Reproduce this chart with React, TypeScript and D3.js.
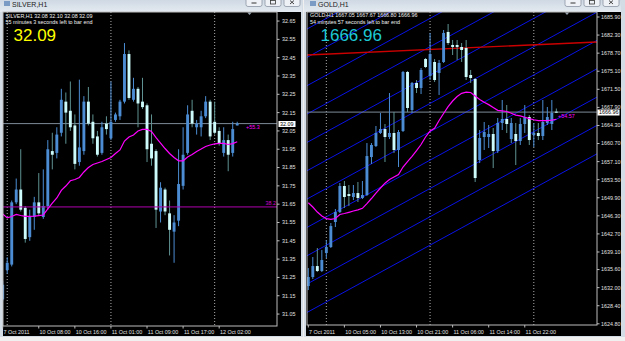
import React from "react";
import * as d3 from "d3";

// ---------------- SILVER (H1) ----------------
const silverOpen = [31.13,31.29,31.32,31.66,31.73,31.63,31.47,31.58,31.66,31.58,31.64,31.94,31.93,32.04,32.21,32.16,32.08,31.88,31.94,32.21,32.10,32.02,31.93,32.09,32.01,32.11,32.13,32.21,32.47,32.22,32.28,32.21,32.19,31.98,31.94,31.61,31.73,31.60,31.50,31.56,31.75,31.93,32.16,32.07,32.07,32.13,32.21,32.10,32.05,31.93,32.00,31.93,32.08];
const silverHigh = [31.23,31.36,31.67,31.79,31.95,31.64,31.62,31.69,31.82,31.84,32.00,32.04,32.07,32.28,32.26,32.32,32.14,32.33,32.24,32.29,32.14,32.05,32.10,32.13,32.32,32.15,32.22,32.53,32.49,32.34,32.29,32.34,32.20,32.14,31.95,31.77,31.74,31.67,31.59,31.95,32.07,32.19,32.22,32.11,32.16,32.24,32.22,32.21,32.07,32.07,32.03,32.10,32.10];
const silverLow = [31.12,31.27,31.31,31.65,31.61,31.44,31.45,31.51,31.59,31.57,31.62,31.84,31.90,32.02,31.98,32.05,31.84,31.86,31.92,32.08,31.98,31.91,31.92,32.03,32.00,32.10,32.11,32.20,32.22,32.21,32.07,32.17,31.88,31.86,31.52,31.55,31.59,31.37,31.33,31.53,31.73,31.92,32.07,32.03,32.02,32.12,32.00,32.03,31.97,31.91,31.83,31.91,32.08];
const silverClose = [31.21,31.33,31.66,31.73,31.62,31.46,31.58,31.66,31.60,31.64,31.95,31.92,32.03,32.22,32.15,32.07,31.87,31.96,32.21,32.09,32.01,31.92,32.07,32.06,32.10,32.14,32.21,32.47,32.23,32.28,32.20,32.18,31.95,31.90,31.62,31.74,31.61,31.51,31.55,31.76,31.92,32.14,32.09,32.09,32.13,32.21,32.02,32.04,31.98,32.00,31.92,32.06,32.09];
const silverMA = [31.596,31.575,31.583,31.594,31.588,31.583,31.583,31.585,31.588,31.591,31.624,31.656,31.684,31.725,31.749,31.778,31.785,31.796,31.826,31.850,31.867,31.875,31.883,31.894,31.905,31.927,31.946,31.995,32.017,32.028,32.050,32.058,32.058,32.047,32.014,31.984,31.954,31.927,31.905,31.887,31.887,31.908,31.921,31.938,31.951,31.965,31.973,31.979,31.982,31.982,31.976,31.981,31.991];
const silverTicks = [32.65,32.55,32.45,32.35,32.25,32.15,32.05,31.95,31.85,31.75,31.65,31.55,31.45,31.35,31.25,31.15,31.05];
const silverDateIdx = [0,8,16,24,32,40,48];
const silverDates = ["7 Oct 2011","10 Oct 08:00","10 Oct 16:00","11 Oct 01:00","11 Oct 09:00","11 Oct 17:00","12 Oct 02:00"];
const silverSeparators = [1,24,47];
const silverLevel = 31.635;
const silverLevelLabel = "38.2";
const silverBid = 32.09;
const silverHeader = "SILVER,H1  32.08 32.10 32.08 32.09";
const silverTimer = "55 minutes 3 seconds left to bar end";
const silverTag = "+55.3";

// ---------------- GOLD (H1) ----------------
const goldOpen = [1632.32,1634.11,1636.30,1635.31,1638.89,1640.09,1645.07,1647.06,1652.24,1650.64,1650.05,1650.84,1649.85,1650.45,1658.01,1660.21,1662.80,1663.59,1662.00,1662.80,1659.41,1663.20,1674.95,1667.38,1672.76,1671.76,1677.54,1674.15,1676.94,1674.75,1676.94,1682.92,1680.33,1680.33,1679.93,1679.73,1674.35,1673.55,1657.42,1662.00,1662.00,1662.60,1659.21,1664.79,1665.59,1661.60,1662.60,1661.20,1664.59,1665.98,1662.40,1662.80,1662.20,1664.79,1664.59,1667.05];
const goldHigh = [1635.90,1638.10,1639.89,1639.49,1641.48,1644.87,1647.66,1652.84,1653.24,1652.44,1652.44,1653.04,1653.24,1660.80,1660.80,1664.19,1666.78,1664.59,1670.76,1666.98,1663.39,1675.15,1675.15,1672.96,1673.35,1675.74,1677.74,1682.72,1677.54,1677.34,1683.31,1684.51,1681.32,1681.32,1680.72,1681.32,1675.35,1673.75,1663.39,1664.99,1664.39,1663.79,1665.79,1669.37,1668.37,1665.79,1664.79,1665.79,1668.37,1666.38,1664.79,1664.79,1669.37,1667.98,1669.37,1667.67];
const goldLow = [1631.52,1633.71,1635.11,1635.11,1637.90,1639.89,1644.07,1646.86,1647.86,1648.25,1649.45,1649.05,1649.65,1650.25,1656.62,1660.01,1662.60,1657.02,1661.60,1658.81,1656.02,1663.00,1666.98,1666.78,1670.76,1670.56,1675.74,1673.35,1672.96,1670.37,1676.74,1680.33,1678.33,1677.34,1676.94,1673.35,1672.76,1653.04,1656.82,1659.41,1659.81,1655.82,1658.81,1663.39,1662.80,1660.80,1656.42,1660.41,1662.80,1660.41,1660.01,1661.40,1661.40,1664.39,1663.39,1666.80];
const goldClose = [1634.11,1636.30,1635.31,1637.50,1640.09,1644.27,1647.06,1652.24,1650.05,1650.25,1650.84,1649.85,1650.45,1658.21,1660.41,1662.80,1663.59,1662.00,1662.80,1659.41,1663.00,1674.95,1667.78,1672.76,1671.76,1675.35,1675.94,1678.53,1673.35,1676.74,1682.72,1680.72,1679.93,1679.93,1679.33,1673.95,1673.75,1653.83,1661.80,1663.00,1662.60,1659.21,1664.79,1665.59,1664.59,1664.79,1661.20,1664.59,1665.98,1661.40,1662.80,1662.20,1664.99,1665.98,1666.78,1666.96];
const goldMA = [1648.91,1648.06,1647.06,1646.26,1645.76,1645.61,1645.76,1646.56,1646.76,1647.00,1647.26,1647.50,1647.80,1648.75,1649.75,1650.84,1651.84,1652.80,1653.53,1654.03,1654.53,1656.02,1657.12,1658.16,1659.31,1660.51,1662.00,1663.19,1663.73,1665.29,1666.68,1668.04,1669.17,1670.07,1670.70,1670.92,1670.86,1670.17,1669.47,1668.91,1668.45,1667.88,1667.32,1667.22,1667.08,1666.74,1666.36,1666.22,1665.94,1665.66,1665.43,1665.25,1665.25,1665.25,1665.35,1665.53];
const goldTicks = ["1685.90","1682.30","1678.70","1675.10","1671.50","1667.90","1664.30","1660.70","1657.10","1653.50","1649.90","1646.30","1642.70","1639.10","1635.60","1632.00","1628.40","1624.80"];
const goldDateIdx = [0,8,16,24,32,40,48];
const goldDates = ["7 Oct 2011","10 Oct 05:00","10 Oct 13:00","10 Oct 21:00","11 Oct 06:00","11 Oct 14:00","11 Oct 22:00"];
const goldSeparators = [4,27,50];
const goldChannelBase = [1683.65,1677.99,1672.36,1666.72,1661.06,1655.42,1649.79,1644.13,1638.49,1632.86,1627.20];
const goldChannelSlope = 0.4914;
const goldTrendIdx = [-0.3, 64];
const goldTrendPrice = [1678.33, 1680.92];
const goldBid = 1666.96;
const goldHeader = "GOLD,H1  1667.05 1667.67 1666.80 1666.96";
const goldTimer = "54 minutes 57 seconds left to bar end";
const goldTag = "+54.57";

// ---------------- styling ----------------
const BULL = "#4b8cd2";
const BEAR = "#cdfafa";
const BEAR_WICK = "#5f9292";
const FONT = "'Liberation Sans', Arial, sans-serif";
const AX = "#e2e2e2";
const FS = 5.4;

type Scale = (v: number) => number;

function Candles({ o, h, l, c, x, y }: { o: number[]; h: number[]; l: number[]; c: number[]; x: Scale; y: Scale }) {
  return (
    <g>
      {o.map((op, i) => {
        const bull = c[i] >= op;
        const cx = x(i);
        const yo = y(op), yc = y(c[i]);
        const top = Math.min(yo, yc);
        const bh = Math.max(1, Math.abs(yo - yc));
        return (
          <g key={i}>
            <line x1={cx} x2={cx} y1={y(h[i])} y2={y(l[i])} stroke={bull ? BULL : BEAR_WICK} strokeWidth={1} />
            <rect x={cx - 1.45} y={top} width={2.9} height={bh} fill={bull ? BULL : BEAR} />
          </g>
        );
      })}
    </g>
  );
}

function TitleBar({ x0, x1, title, tx }: { x0: number; x1: number; title: string; tx: number }) {
  const bx = [x1 - 56, x1 - 37, x1 - 18];
  return (
    <g>
      <rect x={x0} y={0} width={x1 - x0} height={12} fill="url(#tb)" />
      <rect x={tx - 8} y={1} width={6} height={5} fill="#7a9cc4" />
      <text x={tx} y={7} fontFamily={FONT} fontSize={7} fill="#222">{title}</text>
      {bx.map((b, k) => (
        <g key={k}>
          <rect x={b} y={-3} width={16} height={9.5} rx={2} fill="#eef1f5" stroke="#8b96a3" strokeWidth={0.8} />
          {k === 0 && <line x1={b + 5.5} x2={b + 10.5} y1={3} y2={3} stroke="#333" strokeWidth={1} />}
          {k === 1 && <rect x={b + 5.5} y={0.5} width={5} height={3.5} fill="none" stroke="#333" strokeWidth={0.8} />}
          {k === 2 && (
            <g stroke="#333" strokeWidth={0.9}>
              <line x1={b + 6} x2={b + 10} y1={0.5} y2={4} />
              <line x1={b + 10} x2={b + 6} y1={0.5} y2={4} />
            </g>
          )}
        </g>
      ))}
    </g>
  );
}

export default function App() {
  // silver scales
  const sx = d3.scaleLinear().domain([0, 52]).range([2.7, 2.7 + 52 * 4.51]);
  const sy = d3.scaleLinear().domain([31.05, 32.65]).range([314.05, 21.06]);
  // gold scales
  const gx = d3.scaleLinear().domain([0, 55]).range([308.3, 308.3 + 55 * 4.51]);
  const gy = d3.scaleLinear().domain([1624.8, 1685.9]).range([323.8, 17.0]);

  const S = { l: 3, t: 12, r: 277, b: 326 };
  const G = { l: 307, t: 12, r: 597, b: 325 };

  const sLine = d3.line<number>().x((_, i) => sx(i)).y((d) => sy(d));
  const gLine = d3.line<number>().x((_, i) => gx(i)).y((d) => gy(d));

  return (
    <svg width={625} height={341} style={{ position: "absolute", left: 0, top: 0, display: "block" }}>
      <defs>
        <linearGradient id="tb" x1="0" y1="0" x2="0" y2="1">
          <stop offset="0" stopColor="#cfd9e4" />
          <stop offset="1" stopColor="#e4eaf0" />
        </linearGradient>
        <clipPath id="cs"><rect x={S.l} y={S.t} width={S.r - S.l} height={S.b - S.t} /></clipPath>
        <clipPath id="cg"><rect x={G.l} y={G.t} width={G.r - G.l} height={G.b - G.t} /></clipPath>
      </defs>

      <rect x={0} y={0} width={625} height={341} fill="#f0f0f0" />
      {/* window frames */}
      <rect x={0} y={0} width={303} height={337} fill="#d3dbe4" />
      <rect x={304} y={0} width={321} height={337} fill="#d3dbe4" />
      <TitleBar x0={0} x1={302} title="SILVER,H1" tx={12} />
      <TitleBar x0={304} x1={621} title="GOLD,H1" tx={318} />
      <rect x={3} y={12} width={298} height={324} fill="#000" />
      <rect x={306} y={12} width={315} height={324} fill="#000" />

      {/* ================= SILVER ================= */}
      <g>
        {silverSeparators.map((i) => (
          <line key={i} x1={sx(i)} x2={sx(i)} y1={S.t} y2={S.b} stroke="#d8d8d8" strokeWidth={0.8} strokeDasharray="1 2" />
        ))}
        <g clipPath="url(#cs)">
          <line x1={S.l} x2={S.r} y1={sy(silverBid)} y2={sy(silverBid)} stroke="#7d8a98" strokeWidth={1} />
          <Candles o={silverOpen} h={silverHigh} l={silverLow} c={silverClose} x={sx} y={sy} />
          <line x1={S.l} x2={S.r} y1={sy(silverLevel)} y2={sy(silverLevel)} stroke="#b000b0" strokeWidth={1} />
          <path d={sLine(silverMA) || ""} fill="none" stroke="#ff00ff" strokeWidth={1.2} />
        </g>
        <text x={S.r - 1} y={sy(silverLevel) - 1.5} textAnchor="end" fontFamily={FONT} fontSize={FS} fill="#d000d0">{silverLevelLabel}</text>
        <text x={246} y={sy(silverBid) + 5.5} fontFamily={FONT} fontSize={FS} fill="#ff00ff">{silverTag}</text>
        <polygon points="247.3,12.5 251.7,12.5 249.5,15" fill="#9aa4b0" />
        <rect x={S.l} y={S.t} width={S.r - S.l} height={S.b - S.t} fill="none" stroke="#bdbdbd" strokeWidth={1} />
        {silverTicks.map((t) => (
          <g key={t}>
            <line x1={S.r} x2={S.r + 2.5} y1={sy(t)} y2={sy(t)} stroke="#bdbdbd" />
            <text x={S.r + 5} y={sy(t) + 1.9} fontFamily={FONT} fontSize={FS} fill={AX}>{t.toFixed(2)}</text>
          </g>
        ))}
        <rect x={278.5} y={sy(silverBid) - 2.6} width={17} height={6} fill="#fff" />
        <text x={280} y={sy(silverBid) + 2.3} fontFamily={FONT} fontSize={FS} fill="#000">{silverBid.toFixed(2)}</text>
        {silverDateIdx.map((i, k) => (
          <g key={i}>
            <line x1={sx(i)} x2={sx(i)} y1={S.b} y2={S.b + 2.5} stroke="#bdbdbd" />
            <text x={sx(i) + 0.8} y={333.5} fontFamily={FONT} fontSize={FS} fill={AX}>{silverDates[k]}</text>
          </g>
        ))}
        <text x={5.5} y={17.6} fontFamily={FONT} fontSize={FS} fill="#f0f0f0">{silverHeader}</text>
        <text x={5.5} y={24.2} fontFamily={FONT} fontSize={FS} fill="#f0f0f0">{silverTimer}</text>
        <text x={13.5} y={41} fontFamily={FONT} fontSize={17} fill="#ffff00">{silverBid.toFixed(2)}</text>
      </g>

      {/* ================= GOLD ================= */}
      <g>
        {goldSeparators.map((i) => (
          <line key={i} x1={gx(i)} x2={gx(i)} y1={G.t} y2={G.b} stroke="#d8d8d8" strokeWidth={0.8} strokeDasharray="1 2" />
        ))}
        <g clipPath="url(#cg)">
          {goldChannelBase.map((b, k) => (
            <line key={k} x1={gx(-2)} x2={gx(68)} y1={gy(b - 2 * goldChannelSlope)} y2={gy(b + 68 * goldChannelSlope)} stroke="#0a14ff" strokeWidth={0.9} />
          ))}
          <line x1={G.l} x2={G.r} y1={gy(goldBid)} y2={gy(goldBid)} stroke="#7d8a98" strokeWidth={1} />
          <line x1={gx(goldTrendIdx[0])} x2={gx(goldTrendIdx[1])} y1={gy(goldTrendPrice[0])} y2={gy(goldTrendPrice[1])} stroke="#cc0000" strokeWidth={1.3} />
          <Candles o={goldOpen} h={goldHigh} l={goldLow} c={goldClose} x={gx} y={gy} />
          <path d={gLine(goldMA) || ""} fill="none" stroke="#ff00ff" strokeWidth={1.2} />
        </g>
        <text x={558} y={gy(goldBid) + 6} fontFamily={FONT} fontSize={FS} fill="#ff00ff">{goldTag}</text>
        <polygon points="564.8,12.5 569.2,12.5 567,15" fill="#9aa4b0" />
        <rect x={G.l} y={G.t} width={G.r - G.l} height={G.b - G.t} fill="none" stroke="#bdbdbd" strokeWidth={1} />
        {goldTicks.map((t) => (
          <g key={t}>
            <line x1={G.r} x2={G.r + 2.5} y1={gy(+t)} y2={gy(+t)} stroke="#bdbdbd" />
            <text x={G.r + 4} y={gy(+t) + 1.9} fontFamily={FONT} fontSize={FS} fill={AX}>{t}</text>
          </g>
        ))}
        <rect x={597.5} y={gy(goldBid) - 2.6} width={22} height={6} fill="#fff" />
        <text x={599} y={gy(goldBid) + 2.3} fontFamily={FONT} fontSize={FS} fill="#000">{goldBid.toFixed(2)}</text>
        {goldDateIdx.map((i, k) => (
          <g key={i}>
            <line x1={gx(i)} x2={gx(i)} y1={G.b} y2={G.b + 2.5} stroke="#bdbdbd" />
            <text x={gx(i) + 0.8} y={333.5} fontFamily={FONT} fontSize={FS} fill={AX}>{goldDates[k]}</text>
          </g>
        ))}
        <text x={310} y={17.4} fontFamily={FONT} fontSize={FS} fill="#f0f0f0">{goldHeader}</text>
        <text x={310} y={24} fontFamily={FONT} fontSize={FS} fill="#f0f0f0">{goldTimer}</text>
        <text x={320.5} y={40.5} fontFamily={FONT} fontSize={17} fill="#1ec8d4">{goldBid.toFixed(2)}</text>
      </g>
    </svg>
  );
}
